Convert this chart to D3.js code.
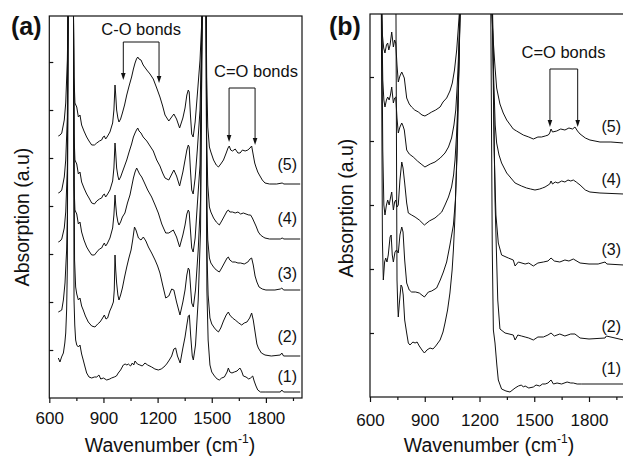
<!DOCTYPE html>
<html><head><meta charset="utf-8">
<script src="https://cdn.jsdelivr.net/npm/d3@7"></script>
<style>body{margin:0;background:#fff;} svg text{font-family:"Liberation Sans",Arial,sans-serif;fill:#111;}</style>
</head><body><svg id="c" width="623" height="457"></svg>
<script>
// ---- tick values ----
const xMajor=[600,900,1200,1500,1800];
const xMinor=[750,1050,1350,1650,1950];
const yTicksA=[24,48,72,96,120,144,168];
const yTicksB=[32,64,96,128,160];
const seriesLabels=["(1)","(2)","(3)","(4)","(5)"];

// ---- panel (a) spectra: [wavenumber, absorption a.u.] ----
const a1=[[650,20],[659,18],[668,20.5],[678,22.5],[686,27.5],[691,32.5],[696,44],[700,65.5],[704,193],[719,215],[734,193],[737,49],[741,36.5],[746,29],[752,26.5],[761,25.5],[770,26.5],[779,22],[788,19],[798,15.5],[807,12.5],[820,10.5],[835,10],[850,10.5],[863,10.5],[875,11.5],[885,9.5],[900,10],[918,9],[935,9.5],[945,10],[960,10.5],[972,11],[982,12.5],[995,14],[1010,16.5],[1020,17],[1030,16.5],[1038,17],[1050,16],[1060,17.5],[1068,16.5],[1075,18.5],[1088,17],[1102,16.5],[1115,16],[1130,17.5],[1145,16.5],[1167,15.5],[1185,14.5],[1204,14],[1220,14.5],[1235,15.5],[1250,17],[1265,19],[1278,21],[1290,24.5],[1300,25],[1310,21],[1325,17.5],[1340,25],[1352,30.5],[1362,36.5],[1370,41],[1376,41.5],[1383,31.5],[1392,21],[1398,19],[1410,26.5],[1425,49],[1438,84],[1447,193],[1458,215],[1469,193],[1473,54],[1480,29],[1490,16.5],[1500,13],[1515,11],[1530,9.5],[1542,9],[1555,10],[1570,10.5],[1585,13],[1592,15],[1600,13],[1612,12.5],[1625,13],[1640,13.5],[1656,15],[1665,13.5],[1675,11],[1690,10.5],[1705,9.5],[1715,10],[1727,11],[1735,8.5],[1745,6],[1755,4],[1770,3],[1800,3],[1880,3],[1888,4],[1898,3],[1990,3]];
const a2=[[650,43],[660,43.5],[669,44],[678,49],[687,57.5],[696,74],[700,91.5],[704,193],[719,215],[734,193],[740,69],[746,55.5],[752,52],[761,49],[770,50],[779,46],[788,44],[800,41],[816,38],[835,36],[853,35.5],[868,37],[881,38],[892,39.5],[905,41.5],[914,39.5],[923,40],[935,43.5],[945,45.5],[955,48],[960,54],[964,71.5],[968,64],[973,57.5],[980,51.5],[986,49],[995,51.5],[1005,55],[1017,60.5],[1029,65.5],[1041,70],[1053,74],[1062,79],[1072,85.5],[1080,84],[1094,80],[1108,79],[1121,80.5],[1135,78.5],[1149,75.5],[1167,72.5],[1186,69],[1200,66],[1213,62.5],[1228,56.5],[1245,50],[1262,51],[1278,54.5],[1290,54],[1305,48],[1324,41.5],[1340,48],[1352,54],[1362,61.5],[1370,65],[1376,64],[1383,55],[1389,47.5],[1398,45.5],[1410,54],[1425,74],[1438,99],[1447,193],[1458,215],[1469,193],[1473,74],[1480,51.5],[1490,40],[1500,37],[1515,35],[1530,33.5],[1537,33],[1550,35],[1565,38.5],[1580,41.5],[1592,43],[1600,41.5],[1615,40],[1630,39],[1650,37.5],[1666,36.5],[1680,37.5],[1695,38],[1710,40],[1721,42.5],[1730,39],[1740,33],[1750,27],[1758,25],[1775,22.5],[1795,21.5],[1830,21],[1880,21.5],[1888,22.5],[1898,21],[1990,21]];
const a3=[[650,78],[660,78.5],[669,79.5],[683,85],[691,93],[700,115],[704,193],[719,215],[734,193],[737,106.5],[742,94],[752,92],[761,87],[770,88],[779,83],[792,79],[807,75.5],[820,73.5],[835,71.5],[850,71.5],[863,73],[878,74.5],[890,75],[898,76.5],[905,77.5],[912,76],[920,77],[936,80],[951,85],[958,91.5],[964,101.5],[968,96.5],[973,91.5],[980,88],[986,86.5],[995,88],[1005,90.5],[1019,92.5],[1033,97.5],[1047,101.5],[1056,105.5],[1066,110],[1075,113],[1084,115],[1092,113.5],[1100,112],[1112,110.5],[1125,108],[1145,104],[1167,100.5],[1186,96.5],[1204,92.5],[1223,87],[1235,84.5],[1245,82.5],[1262,82.5],[1287,84],[1305,80.5],[1322,75.5],[1340,81.5],[1352,86.5],[1362,92],[1370,94],[1375,93],[1382,84],[1389,75],[1397,73],[1408,80],[1420,96.5],[1435,116.5],[1447,193],[1458,215],[1469,193],[1472,99],[1478,79],[1487,70],[1495,67.5],[1510,65.5],[1525,64],[1542,63],[1555,65],[1570,67.5],[1585,70],[1592,70.5],[1600,69],[1615,68],[1630,68],[1645,67.5],[1660,67.5],[1680,67],[1700,68],[1712,69.5],[1721,70],[1730,66.5],[1740,61],[1750,58],[1762,55.5],[1780,54.5],[1800,54],[1850,54],[1880,54.5],[1888,55],[1898,54],[1990,54]];
const a4=[[650,102.5],[660,103],[669,104],[683,110.5],[691,119],[700,140.5],[704,193],[719,215],[734,193],[737,132],[742,119],[752,117],[761,112],[770,113],[779,108],[792,105],[807,102],[820,100],[835,97.5],[850,97],[863,98.5],[878,99.5],[890,100],[898,101.5],[905,102],[912,100.5],[920,101.5],[936,104],[951,108.5],[958,115],[964,127.5],[968,122.5],[973,115],[980,111],[986,109],[995,110.5],[1005,113],[1017,116],[1029,119],[1042,123],[1056,127],[1066,130.5],[1075,132.5],[1083,134],[1090,135],[1097,133.5],[1108,132.5],[1120,130.5],[1140,128.5],[1158,126],[1176,123.5],[1195,119],[1213,116],[1228,112.5],[1241,110],[1262,109],[1290,114],[1305,111],[1322,106],[1340,113],[1352,119],[1362,124],[1370,126.5],[1375,125.5],[1382,114],[1389,104],[1397,102],[1408,110],[1420,124],[1435,144],[1447,193],[1458,215],[1469,193],[1472,129],[1478,106.5],[1487,95.5],[1495,93],[1510,90],[1525,88],[1542,86.5],[1555,88.5],[1570,91],[1585,93.5],[1592,94],[1600,93],[1615,93],[1630,92.5],[1645,93],[1660,92],[1675,92.5],[1690,92],[1705,91.5],[1715,91.5],[1725,90],[1735,88],[1745,86],[1758,83],[1770,81.5],[1785,80.5],[1795,80],[1820,79.5],[1880,79.5],[1890,80],[1900,79.5],[1990,79.5]];
const a5=[[650,131],[660,131.5],[669,132.5],[683,139],[691,147.5],[700,169],[704,193],[719,215],[734,193],[737,160.5],[742,147.5],[752,145.5],[761,140.5],[770,141.5],[779,136.5],[792,133.5],[807,130.5],[820,128.5],[835,126.5],[850,126.5],[863,127.5],[878,128.5],[890,129],[898,130.5],[905,131],[912,129.5],[920,130.5],[936,133],[951,137.5],[958,144],[964,156.5],[968,151.5],[973,144],[980,140],[986,138],[995,139.5],[1005,142.5],[1017,146.5],[1029,151.5],[1042,156],[1056,160.5],[1066,164.5],[1075,167.5],[1083,169.5],[1090,170.5],[1097,169.5],[1108,169],[1120,166.5],[1140,164],[1158,162],[1176,159.5],[1195,155],[1213,150.5],[1228,146],[1241,141.5],[1262,138.5],[1290,142],[1305,139.5],[1322,135],[1340,140],[1352,145],[1362,151.5],[1370,154],[1375,153],[1382,141.5],[1389,132],[1397,130.5],[1408,138],[1420,151.5],[1435,169],[1447,193],[1458,215],[1469,193],[1472,160.5],[1478,135.5],[1487,125.5],[1495,123],[1510,119],[1525,116.5],[1537,115.5],[1550,117],[1565,119],[1580,122.5],[1590,125],[1597,126],[1605,124],[1615,123.5],[1630,124.5],[1645,122.5],[1657,122.5],[1670,124],[1685,123.5],[1700,124],[1712,125],[1721,126],[1730,121.5],[1738,117.5],[1745,115.5],[1755,113],[1764,111.5],[1780,109],[1795,107.5],[1820,107],[1860,107],[1890,107.5],[1900,107],[1990,107]];

// ---- panel (b) spectra ----
const b1=[[742,200],[748,58.5],[752,46],[755,40],[760,46],[770,56],[776,55],[782,51],[790,38.5],[801,32],[810,27],[819,26],[835,27.5],[847,27],[858,27.5],[870,25.5],[885,23.5],[898,22],[912,23.5],[929,24.5],[945,24],[960,25.5],[984,28.5],[1000,32.5],[1011,37],[1025,43.5],[1038,52],[1050,63.5],[1057,73.5],[1066,91],[1075,118.5],[1085,158.5],[1093,191.5],[1100,210],[1175,230],[1250,210],[1255,200],[1262,191.5],[1270,73.5],[1276,33.5],[1285,27],[1295,16],[1303,8.5],[1321,4],[1345,3],[1367,2.5],[1395,4.5],[1413,5.5],[1430,6],[1440,5],[1450,5.5],[1470,4.5],[1495,5],[1510,6],[1530,5.5],[1545,6.5],[1560,6.5],[1575,7],[1592,8.5],[1605,6.5],[1625,7],[1650,6.5],[1680,7.5],[1700,7],[1714,7],[1735,6.5],[1760,6.5],[1800,6.5],[1990,6.5]];
const b2=[[645,215],[662,195],[668,78.5],[673,58.5],[680,67.5],[686,69.5],[693,67.5],[700,71],[710,80],[716,81],[722,71],[728,67.5],[737,72.5],[745,73.5],[755,72],[764,81],[774,85],[781,82.5],[790,68.5],[801,57],[815,53.5],[828,52.5],[850,52.5],[870,52],[898,50],[920,52.5],[938,53],[965,54.5],[985,58.5],[1002,62.5],[1020,67.5],[1038,76],[1057,86],[1068,98.5],[1078,123.5],[1086,158.5],[1093,191.5],[1100,210],[1175,230],[1250,210],[1262,200],[1272,191.5],[1285,98.5],[1300,48.5],[1312,34],[1340,32],[1385,31],[1395,28.5],[1410,31],[1430,30.5],[1450,30],[1470,29.5],[1495,28.5],[1520,30],[1550,30],[1575,31],[1592,32],[1610,30.5],[1640,31.5],[1668,30.5],[1700,31.5],[1723,31.5],[1751,29.5],[1800,29],[1888,29.5],[1895,30.5],[1990,28.5]];
const b3=[[645,215],[664,195],[670,123.5],[676,96],[682,91],[690,96],[697,98.5],[705,96],[712,99.5],[719,102.5],[728,93.5],[735,97.5],[741,98.5],[748,95],[755,96],[764,108.5],[774,117.5],[781,114.5],[790,107],[801,97],[810,92],[828,91],[847,90],[870,88.5],[898,86],[925,88],[956,89.5],[975,91],[993,92.5],[1011,96],[1030,100],[1047,105],[1058,111],[1066,118.5],[1074,131],[1080,143.5],[1088,168.5],[1094,191.5],[1100,210],[1175,230],[1250,210],[1262,200],[1271,191.5],[1280,123.5],[1290,91],[1303,77],[1321,71],[1358,69.5],[1385,68.5],[1395,65.5],[1413,67.5],[1450,66.5],[1470,67],[1495,65.5],[1520,67],[1550,67.5],[1575,68],[1592,69.5],[1610,68],[1640,67.5],[1668,68.5],[1690,68],[1714,69],[1751,67],[1800,66.5],[1850,66.5],[1888,67.5],[1898,66.5],[1990,66]];
const b4=[[645,215],[664,195],[670,158.5],[676,148.5],[682,145],[690,148.5],[697,150],[705,148.5],[712,151],[719,155],[728,147],[735,149.5],[741,150],[748,139.5],[755,132],[764,135],[774,137],[781,135.5],[788,133.5],[801,123.5],[815,121.5],[837,120],[860,118],[880,116.5],[901,115],[930,116.5],[956,117.5],[985,119.5],[1011,122],[1030,125],[1047,129.5],[1060,136],[1070,143.5],[1078,156],[1084,168.5],[1092,191.5],[1100,210],[1175,230],[1250,210],[1262,200],[1270,191.5],[1278,158.5],[1286,136],[1294,127],[1307,121],[1321,117],[1349,112],[1395,107],[1430,105.5],[1458,104.5],[1480,104],[1504,103.5],[1530,104],[1545,104.5],[1559,105],[1585,106.5],[1592,108],[1600,106.5],[1615,107.5],[1630,107],[1650,108],[1668,107.5],[1685,108.5],[1700,108],[1714,108.5],[1730,107.5],[1751,106],[1780,103.5],[1805,102.5],[1860,102],[1990,101.5]];
const b5=[[645,215],[664,195],[668,181],[675,174.5],[682,172],[690,176],[697,177],[703,173.5],[710,176],[719,182.5],[724,178.5],[728,175],[735,178.5],[741,177],[748,166],[755,157.5],[764,160.5],[774,162.5],[781,161],[788,159.5],[801,149.5],[815,146.5],[828,145],[845,143.5],[865,142.5],[885,141],[901,140.5],[920,141.5],[938,142.5],[960,143.5],[984,145],[1000,147.5],[1020,149.5],[1038,153],[1051,157],[1063,163.5],[1075,173.5],[1083,183.5],[1090,192.5],[1100,210],[1175,230],[1250,210],[1262,200],[1267,191.5],[1275,178.5],[1285,165],[1294,154.5],[1312,146.5],[1330,142],[1349,138.5],[1385,134],[1403,133],[1440,131],[1470,130],[1495,129],[1520,130],[1540,130],[1560,130.5],[1577,131],[1585,132],[1592,134],[1600,132.5],[1623,133],[1645,134],[1668,133.5],[1690,134.5],[1710,134],[1723,135],[1737,133],[1751,131.5],[1780,129.5],[1805,128.5],[1860,127.5],[1920,127.5],[1990,127]];

const svg=d3.select("#c");
svg.append("rect").attr("width",623).attr("height",457).attr("fill","#fff");

function panel(cfg){
  const x=d3.scaleLinear().domain([600,2000]).range(cfg.xr);
  const y=d3.scaleLinear().domain(cfg.yd).range(cfg.yr);
  const id="clip"+cfg.name;
  svg.append("clipPath").attr("id",id).append("rect")
    .attr("x",cfg.xr[0]).attr("y",cfg.yr[1])
    .attr("width",cfg.xr[1]-cfg.xr[0]).attr("height",cfg.yr[0]-cfg.yr[1]);
  const g=svg.append("g");
  const line=d3.line().x(d=>x(d[0])).y(d=>y(d[1]));
  g.append("g").attr("clip-path",`url(#${id})`)
    .selectAll("path").data(cfg.series).join("path")
    .attr("d",line).attr("fill","none").attr("stroke","#111")
    .attr("stroke-width",1).attr("stroke-linejoin","round");
  // frame
  g.append("rect").attr("x",cfg.xr[0]).attr("y",cfg.yr[1])
    .attr("width",cfg.xr[1]-cfg.xr[0]).attr("height",cfg.yr[0]-cfg.yr[1])
    .attr("fill","none").attr("stroke","#111").attr("stroke-width",1.2);
  // x axis
  const xa=g.append("g").attr("transform",`translate(0,${cfg.yr[0]})`)
    .call(d3.axisBottom(x).tickValues(xMajor).tickSize(5).tickPadding(cfg.pad).tickFormat(d3.format("d")));
  xa.select(".domain").remove();
  xa.selectAll("line").attr("stroke","#111").attr("stroke-width",1.2);
  xa.selectAll("text").attr("font-size",17).attr("fill","#111")
    .style("font-family","'Liberation Sans',Arial,sans-serif");
  const xm=g.append("g").attr("transform",`translate(0,${cfg.yr[0]})`)
    .call(d3.axisBottom(x).tickValues(xMinor).tickSize(3).tickFormat(""));
  xm.select(".domain").remove();
  xm.selectAll("line").attr("stroke","#111").attr("stroke-width",1.2);
  // y ticks (inward)
  const ya=g.append("g").attr("transform",`translate(${cfg.xr[0]},0)`)
    .call(d3.axisLeft(y).tickValues(cfg.yt).tickSize(-4).tickFormat(""));
  ya.select(".domain").remove();
  ya.selectAll("line").attr("stroke","#111").attr("stroke-width",1.2);
  // titles
  const xt=g.append("text").attr("x",cfg.xtx).attr("y",452).attr("text-anchor","middle").attr("font-size",19.5);
  xt.append("tspan").text("Wavenumber (cm");
  xt.append("tspan").attr("font-size",12).attr("dy",-9).text("-1");
  xt.append("tspan").attr("dy",9).text(")");
  g.append("text").attr("transform",`translate(${cfg.ytx},${cfg.yty}) rotate(-90)`)
    .attr("text-anchor","middle").attr("font-size",19.5).text("Absorption (a.u)");
  g.append("text").attr("x",cfg.px).attr("y",35).attr("font-size",25).attr("font-weight","bold").text(cfg.tag);
  // series labels
  seriesLabels.forEach((s,i)=>{
    g.append("text").attr("x",cfg.lx).attr("y",cfg.ly[i]).attr("text-anchor","end").attr("font-size",16).text(s);
  });
  // brackets
  cfg.brackets.forEach(b=>{
    const x1=x(b.w[0]),x2=x(b.w[1]),yt=y(b.top);
    const t1=y(b.tips[0]),t2=y(b.tips[1]);
    g.append("path").attr("d",`M${x1},${t1-5}V${yt}H${x2}V${t2-5}`)
      .attr("fill","none").attr("stroke","#111").attr("stroke-width",1);
    [[x1,t1],[x2,t2]].forEach(([px,py])=>{
      g.append("path").attr("d",`M${px-2.3},${py-7}L${px+2.3},${py-7}L${px},${py}Z`).attr("fill","#111");
    });
    g.append("text").attr("x",x(b.textW)).attr("y",y(b.textV)).attr("text-anchor","middle")
      .attr("font-size",16.5).text(b.label);
  });
}

panel({name:"a",tag:"(a)",px:11,xr:[49.3,302],yr:[398,16],yd:[0,191],yt:yTicksA,pad:9,
  series:[a1,a2,a3,a4,a5],xtx:170,ytx:29,yty:217,lx:297,ly:[382,342,279,224,170],
  brackets:[{w:[1010,1208],top:178,tips:[159,157.5],label:"C-O bonds",textW:1109,textV:181.5},
            {w:[1596,1740],top:155,tips:[128,126.5],label:"C=O bonds",textW:1745,textV:160.5}]});
panel({name:"b",tag:"(b)",px:329,xr:[370,625.5],yr:[397,14],yd:[0,191.5],yt:yTicksB,pad:12,
  series:[b1,b2,b3,b4,b5],xtx:489,ytx:353,yty:208,lx:621,ly:[374,332,255,185,132],
  brackets:[{w:[1586,1738],top:164,tips:[135,135],label:"C=O bonds",textW:1660,textV:169.5}]});
</script></body></html>
